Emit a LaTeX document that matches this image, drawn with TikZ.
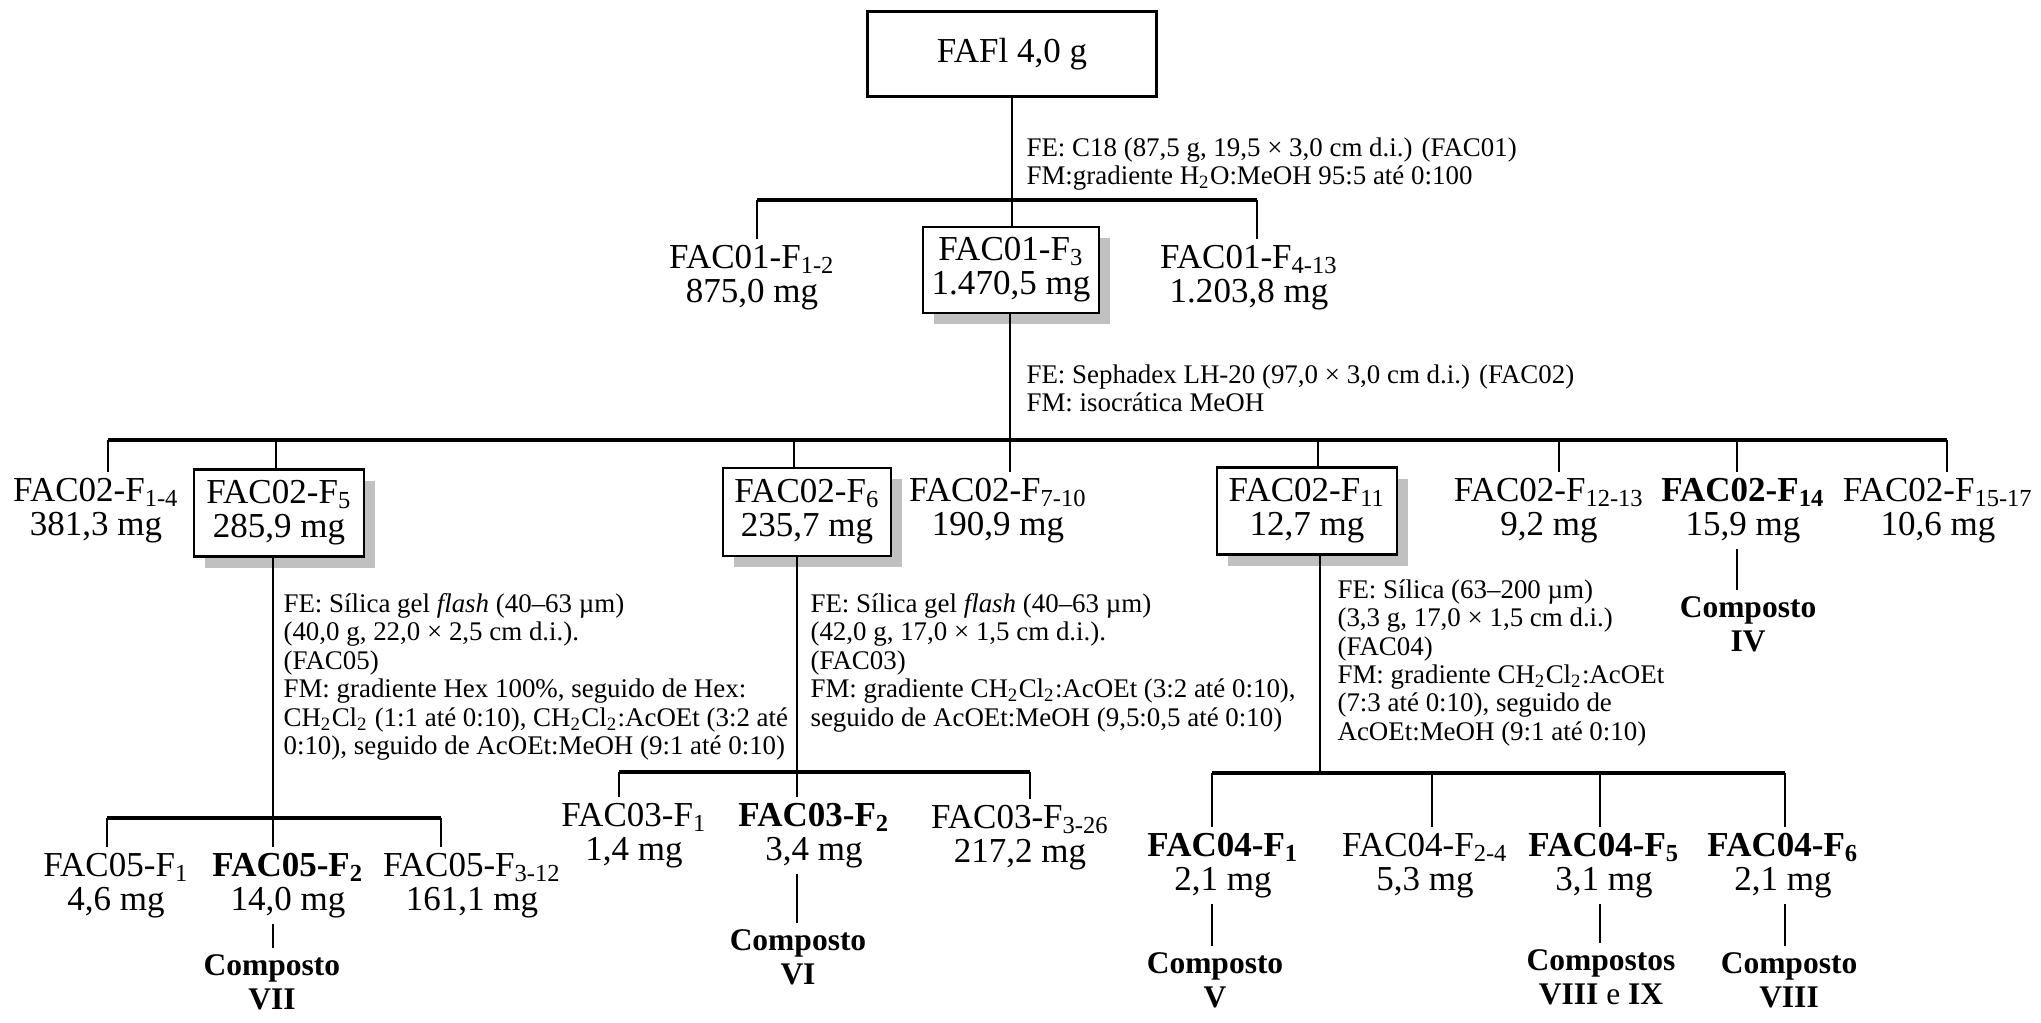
\documentclass[tikz,border=0pt]{standalone}
\usepackage{fontspec}
\setmainfont{Liberation Serif}
\usepackage{tikz}
\usetikzlibrary{shadows}
\definecolor{shadowGray}{HTML}{C0C0C0}
\newcommand{\BigText}{\fontsize{12.45}{12.1}\selectfont}
\newcommand{\NoteText}{\fontsize{9.57}{10.1}\selectfont}
\newcommand{\CpdText}{\bfseries\fontsize{11.2}{12.4}\selectfont}
\newcommand{\Sub}[1]{\textsubscript{#1}}
\lineskiplimit=-\maxdimen
\tikzset{
    frac/.style={align=center, anchor=north, inner xsep=0pt, inner ysep=2pt, font=\BigText},
    fracbox/.style={draw, line width=0.9pt, fill=white, align=center, inner sep=0pt, font=\BigText,
        drop shadow={shadow xshift=0.14cm, shadow yshift=-0.14cm, fill=shadowGray, opacity=1}},
    plainbox/.style={draw, line width=0.9pt, align=center, inner sep=0pt, font=\BigText},
    note/.style={align=left, anchor=north west, inner sep=0pt, font=\NoteText},
    cpd/.style={align=center, anchor=north, inner xsep=0pt, inner ysep=2pt, font=\CpdText},
    bar/.style={line width=1.1pt},
    stem/.style={line width=0.7pt}
}
\begin{document}
\begin{tikzpicture}[x=0.0125cm, y=-0.0125cm]
    \useasboundingbox (0,0) rectangle (2041,1022);

    % boxes
    \node[plainbox, minimum width=3.61cm, minimum height=1.06cm] (faf) at (1012,54) {FAFl 4,0 g};
    \node[fracbox, minimum width=2.2cm, minimum height=1.075cm] (f3) at (1011,270) {FAC01-F\Sub{3}\\1.470,5 mg};
    \node[fracbox, minimum width=2.125cm, minimum height=1.09cm] (f5) at (279,513) {FAC02-F\Sub{5}\\285,9 mg};
    \node[fracbox, minimum width=2.1cm, minimum height=1.1cm] (f6) at (807,512) {FAC02-F\Sub{6}\\235,7 mg};
    \node[fracbox, minimum width=2.25cm, minimum height=1.09cm] (f11) at (1307,511) {FAC02-F\Sub{11}\\12,7 mg};

    % fractions
    \node[frac] (f12) at (752,239) {FAC01-F\Sub{1-2}\\875,0 mg};
    \node[frac] (f413) at (1249,239) {FAC01-F\Sub{4-13}\\1.203,8 mg};
    \node[frac] (f0214) at (96,472) {FAC02-F\Sub{1-4}\\381,3 mg};
    \node[frac] (f0710) at (998,472) {FAC02-F\Sub{7-10}\\190,9 mg};
    \node[frac] (f1213) at (1549,472) {FAC02-F\Sub{12-13}\\9,2 mg};
    \node[frac] (f14) at (1743,472) {\textbf{FAC02-F\Sub{14}}\\15,9 mg};
    \node[frac] (f1517) at (1938,472) {FAC02-F\Sub{15-17}\\10,6 mg};
    \node[frac] (f051) at (116,847) {FAC05-F\Sub{1}\\4,6 mg};
    \node[frac] (f052) at (288,847) {\textbf{FAC05-F\Sub{2}}\\14,0 mg};
    \node[frac] (f05312) at (472,847) {FAC05-F\Sub{3-12}\\161,1 mg};
    \node[frac] (f031) at (634,797) {FAC03-F\Sub{1}\\1,4 mg};
    \node[frac] (f032) at (814,797) {\textbf{FAC03-F\Sub{2}}\\3,4 mg};
    \node[frac] (f03326) at (1020,799) {FAC03-F\Sub{3-26}\\217,2 mg};
    \node[frac] (f041) at (1223,827) {\textbf{FAC04-F\Sub{1}}\\2,1 mg};
    \node[frac] (f0424) at (1425,827) {FAC04-F\Sub{2-4}\\5,3 mg};
    \node[frac] (f045) at (1604,827) {\textbf{FAC04-F\Sub{5}}\\3,1 mg};
    \node[frac] (f046) at (1783,827) {\textbf{FAC04-F\Sub{6}}\\2,1 mg};

    % compounds
    \node[cpd] (cIV) at (1748,590) {Composto\\IV};
    \node[cpd] (cVII) at (272,948) {Composto\\VII};
    \node[cpd] (cVI) at (798,923) {Composto\\VI};
    \node[cpd] (cV) at (1215,946) {Composto\\V};
    \node[cpd] (cVIIIIX) at (1601,943) {Compostos\\VIII {\mdseries e} IX};
    \node[cpd] (cVIII) at (1789,946) {Composto\\VIII};

    % conditions
    \node[note] (n01) at (1026,137) {FE: C18 (87,5 g, 19,5 × 3,0 cm d.i.) (FAC01)\\
        FM:gradiente H\Sub{2}O:MeOH 95:5 até 0:100};
    \node[note] (n02) at (1026,364) {FE: Sephadex LH-20 (97,0 × 3,0 cm d.i.) (FAC02)\\
        FM: isocrática MeOH};
    \node[note] (n05) at (283,593) {FE: Sílica gel \textit{flash} (40--63 µm)\\
        (40,0 g, 22,0 × 2,5 cm d.i.).\\
        (FAC05)\\
        FM: gradiente Hex 100\%, seguido de Hex:\\
        CH\Sub{2}Cl\Sub{2} (1:1 até 0:10), CH\Sub{2}Cl\Sub{2}:AcOEt (3:2 até\\
        0:10), seguido de AcOEt:MeOH (9:1 até 0:10)};
    \node[note] (n03) at (810,593) {FE: Sílica gel \textit{flash} (40--63 µm)\\
        (42,0 g, 17,0 × 1,5 cm d.i.).\\
        (FAC03)\\
        FM: gradiente CH\Sub{2}Cl\Sub{2}:AcOEt (3:2 até 0:10),\\
        seguido de AcOEt:MeOH (9,5:0,5 até 0:10)};
    \node[note] (n04) at (1337,579) {FE: Sílica (63--200 µm)\\
        (3,3 g, 17,0 × 1,5 cm d.i.)\\
        (FAC04)\\
        FM: gradiente CH\Sub{2}Cl\Sub{2}:AcOEt\\
        (7:3 até 0:10), seguido de\\
        AcOEt:MeOH (9:1 até 0:10)};

    % branch points
    \coordinate (t12) at (757,200);
    \coordinate (t413) at (1257,200);
    \coordinate (t0214) at (108,440);
    \coordinate (t5) at (276,440);
    \coordinate (t6) at (794,440);
    \coordinate (t0710) at (1010,440);
    \coordinate (t11) at (1318,440);
    \coordinate (t1213) at (1559,440);
    \coordinate (t14) at (1737,440);
    \coordinate (t1517) at (1947,440);
    \coordinate (t051) at (107,818);
    \coordinate (t052) at (273,818);
    \coordinate (t05312) at (441,818);
    \coordinate (t031) at (619,772);
    \coordinate (t032) at (797,772);
    \coordinate (t03326) at (1030,772);
    \coordinate (t11b) at (1320,773);
    \coordinate (t041) at (1212,773);
    \coordinate (t0424) at (1432,773);
    \coordinate (t045) at (1600,773);
    \coordinate (t046) at (1785,773);

    \draw[stem] (faf.south) -- (faf.south |- f3.north);
    \draw[bar] (t12) -- (t413);
    \foreach \n in {12,413} \draw[stem] (t\n) -- (t\n |- f\n.north);

    \draw[stem] (t0710 |- f3.south) -- (t0710 |- f0710.north);
    \draw[bar] (t0214) -- (t1517);
    \foreach \n in {0214,5,6,11,1213,14,1517} \draw[stem] (t\n) -- (t\n |- f\n.north);

    \draw[stem] (t052 |- f5.south) -- (t052 |- f052.north);
    \draw[bar] (t051) -- (t05312);
    \foreach \n in {051,05312} \draw[stem] (t\n) -- (t\n |- f\n.north);

    \draw[stem] (t032 |- f6.south) -- (t032 |- f032.north);
    \draw[bar] (t031) -- (t03326);
    \foreach \n in {031,03326} \draw[stem] (t\n) -- (t\n |- f\n.north);

    \draw[stem] (t11b |- f11.south) -- (t11b);
    \draw[bar] (t041) -- (t046);
    \foreach \n in {041,0424,045,046} \draw[stem] (t\n) -- (t\n |- f\n.north);

    \foreach \n/\c in {14/IV,052/VII,032/VI,041/V,045/VIIIIX,046/VIII}
        \draw[stem] (t\n |- f\n.south) -- (t\n |- c\c.north);

\end{tikzpicture}
\end{document}
